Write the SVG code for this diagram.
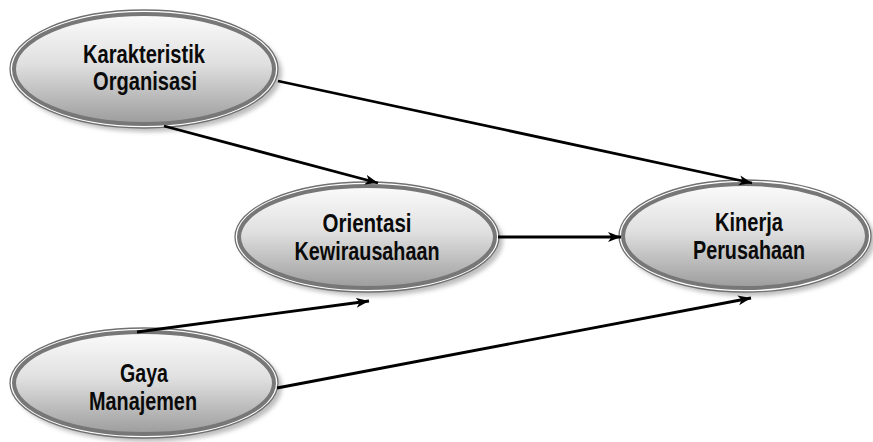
<svg xmlns="http://www.w3.org/2000/svg" width="873" height="442" viewBox="0 0 873 442">
<defs>
<linearGradient id="fillG" x1="0" y1="0" x2="0" y2="1">
<stop offset="0" stop-color="#fbfbfb"/>
<stop offset="0.45" stop-color="#e0e0e0"/>
<stop offset="1" stop-color="#9c9c9c"/>
</linearGradient>
<filter id="blur" x="-10%" y="-10%" width="120%" height="130%">
<feGaussianBlur stdDeviation="2"/>
</filter>
<marker id="arr" markerUnits="userSpaceOnUse" markerWidth="14" markerHeight="12" refX="13" refY="5" orient="auto">
<path d="M0,0 L13,5 L0,10 L3.5,5 z" fill="#000"/>
</marker>
</defs>
<style>
.shadow{fill:#bdbdbd;filter:url(#blur)}
.outer{fill:#fff;stroke:#707070;stroke-width:1.3}
.ring{fill:url(#fillG);stroke:#777;stroke-width:4}
.lbl{font-family:"Liberation Sans Narrow","Liberation Sans",Arial,sans-serif;font-weight:bold;font-size:25px;fill:#0a0a0a;text-anchor:middle}
.conn{stroke:#000;stroke-width:2.8;fill:none;marker-end:url(#arr)}
</style>
<rect width="873" height="442" fill="#fff"/>
<g id="node-karakteristik">
<ellipse class="shadow" cx="148" cy="73" rx="134" ry="59"/>
<ellipse class="outer" cx="144" cy="69" rx="134" ry="59"/>
<ellipse class="ring" cx="144" cy="69" rx="130" ry="55"/>
<text class="lbl" x="144" y="63" textLength="122" lengthAdjust="spacingAndGlyphs">Karakteristik</text>
<text class="lbl" x="145" y="90" textLength="104" lengthAdjust="spacingAndGlyphs">Organisasi</text>
</g>
<g id="node-orientasi">
<ellipse class="shadow" cx="371" cy="241" rx="132" ry="55"/>
<ellipse class="outer" cx="367" cy="237" rx="132" ry="55"/>
<ellipse class="ring" cx="367" cy="237" rx="128" ry="51"/>
<text class="lbl" x="367" y="232" textLength="89" lengthAdjust="spacingAndGlyphs">Orientasi</text>
<text class="lbl" x="367" y="260" textLength="145" lengthAdjust="spacingAndGlyphs">Kewirausahaan</text>
</g>
<g id="node-kinerja">
<ellipse class="shadow" cx="749" cy="240" rx="126" ry="56"/>
<ellipse class="outer" cx="745" cy="236" rx="126" ry="56"/>
<ellipse class="ring" cx="745" cy="236" rx="122" ry="52"/>
<text class="lbl" x="749" y="231" textLength="68" lengthAdjust="spacingAndGlyphs">Kinerja</text>
<text class="lbl" x="749" y="259" textLength="112" lengthAdjust="spacingAndGlyphs">Perusahaan</text>
</g>
<g id="node-gaya">
<ellipse class="shadow" cx="148" cy="387" rx="134" ry="55"/>
<ellipse class="outer" cx="144" cy="383" rx="134" ry="55"/>
<ellipse class="ring" cx="144" cy="383" rx="130" ry="51"/>
<text class="lbl" x="144" y="382" textLength="48" lengthAdjust="spacingAndGlyphs">Gaya</text>
<text class="lbl" x="143" y="410" textLength="108" lengthAdjust="spacingAndGlyphs">Manajemen</text>
</g>
<g id="connectors">
<line class="conn" x1="278" y1="81" x2="752" y2="183"/>
<line class="conn" x1="164" y1="126" x2="378" y2="183"/>
<line class="conn" x1="498" y1="237" x2="621" y2="237"/>
<line class="conn" x1="137" y1="332" x2="369" y2="301"/>
<line class="conn" x1="277" y1="388" x2="751" y2="298"/>
</g>
</svg>
